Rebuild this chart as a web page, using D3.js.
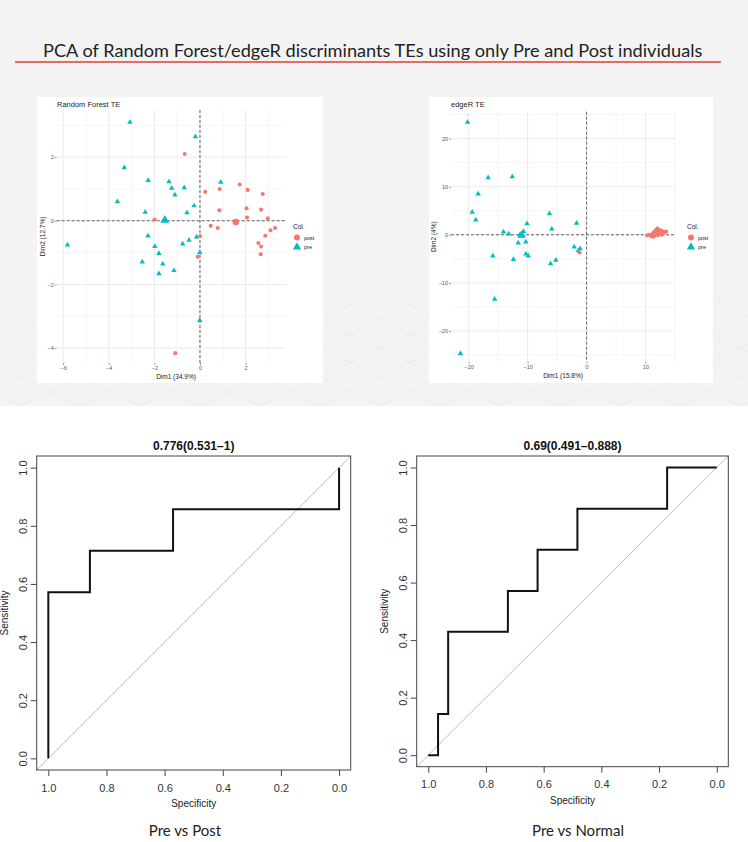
<!DOCTYPE html>
<html><head><meta charset="utf-8">
<script src="https://cdn.jsdelivr.net/npm/d3@7"></script>
<style>body{margin:0;background:#fff}svg{display:block}</style>
</head><body>
<svg id="c" width="748" height="842"></svg>
<script>
// ---------------- DATA ----------------
const mainTitle = "PCA of Random Forest/edgeR discriminants TEs using only Pre and Post individuals";
const groups = ["post", "pre"];
const groupColors = ["#F8766D", "#00BFC4"];

// Random Forest TE PCA (Dim1, Dim2)
const rfPre = [[-3.07,3.10],[-0.20,2.64],[-3.32,1.67],[-2.27,1.27],[-1.36,1.23],[-1.24,1.02],[-0.69,1.04],[-1.10,0.81],[0.91,1.21],[-3.62,0.60],[-2.40,0.27],[-0.26,0.47],[-0.57,0.25],[-5.81,-0.76],[-2.28,-0.48],[-1.98,-0.81],[-1.80,-1.03],[-2.53,-1.29],[-1.63,-1.36],[-1.80,-1.66],[-1.14,-1.56],[-0.76,-0.73],[-0.48,-0.61],[-0.15,-0.51],[-0.01,-1.00],[-0.01,-3.13]];
const rfPost = [[-0.67,2.10],[0.23,0.91],[0.86,1.00],[1.74,1.14],[2.09,0.97],[2.75,0.84],[0.85,0.33],[2.04,0.39],[2.68,0.35],[2.06,0.10],[2.97,0.08],[-1.99,0.04],[0.47,-0.16],[0.78,-0.23],[3.29,-0.23],[3.09,-0.30],[2.86,-0.47],[2.56,-0.70],[2.68,-0.81],[2.66,-1.05],[0.01,-0.48],[-0.10,-1.13],[-1.08,-4.16]];
const rfCentroids = [[1.57,-0.04],[-1.54,0.02]]; // post, pre
const rfXTicks = [-6,-4,-2,0,2];
const rfYTicks = [-4,-2,0,2];

// edgeR TE PCA
const edgePre = [[-20.2,23.4],[-16.7,11.9],[-12.6,12.1],[-18.4,8.5],[-19.4,4.7],[-18.8,3.1],[-14.1,0.6],[-13.2,0.2],[-10.1,2.3],[-10.7,0.7],[-11.3,0.1],[-11.0,-0.2],[-11.6,-1.7],[-10.3,-1.5],[-6.3,4.4],[-5.9,1.2],[-1.7,2.4],[-15.9,-4.4],[-12.4,-5.1],[-10.3,-4.0],[-9.9,-4.4],[-6.1,-6.0],[-5.2,-5.3],[-2.1,-2.5],[-1.4,-3.3],[-1.1,-2.9],[-15.6,-13.4],[-21.4,-24.7]];
const edgePost = [[10.3,-0.1],[10.7,0.0],[11.0,-0.3],[11.2,0.2],[11.4,0.4],[11.6,0.7],[11.8,1.0],[12.0,1.3],[12.2,1.1],[12.3,0.8],[12.5,0.5],[12.6,0.2],[12.8,0.0],[13.0,0.3],[13.2,0.6],[13.5,0.7],[11.5,-0.2],[12.1,-0.1],[12.4,0.1],[11.9,0.3],[12.7,0.9],[11.3,-0.4],[-1.2,-3.7]];
const edgeCentroids = [[11.6,0.3],[-11.0,-0.1]];
const edgeXTicks = [-20,-10,0,10];
const edgeYTicks = [-20,-10,0,10,20];

// ROC curves (specificity, sensitivity)
const roc1Spec = [1, 1, 0.857, 0.857, 0.571, 0.571, 0, 0];
const roc1Sens = [0, 0.571, 0.571, 0.714, 0.714, 0.857, 0.857, 1];
const roc1Title = "0.776(0.531\u20131)";
const roc1Caption = "Pre vs Post";
const roc2Spec = [1, 0.966, 0.966, 0.931, 0.931, 0.724, 0.724, 0.621, 0.621, 0.483, 0.483, 0.172, 0.172, 0];
const roc2Sens = [0, 0, 0.143, 0.143, 0.429, 0.429, 0.571, 0.571, 0.714, 0.714, 0.857, 0.857, 1, 1];
const roc2Title = "0.69(0.491\u20130.888)";
const roc2Caption = "Pre vs Normal";
const rocTicks = [0, 0.2, 0.4, 0.6, 0.8, 1.0];

// ---------------- DRAW ----------------
const svg = d3.select("#c");
svg.append("rect").attr("x",0).attr("y",0).attr("width",748).attr("height",406).attr("fill","#f3f3f3");

// faint decorative floor grid in the grey band
svg.append("clipPath").attr("id","dc").append("rect").attr("x",0).attr("y",300).attr("width",748).attr("height",106);
const deco = svg.append("g").attr("stroke","#eaeaea").attr("stroke-width",0.8).attr("fill","none").attr("clip-path","url(#dc)");
d3.range(-4, 12).forEach(i => {
  deco.append("line").attr("x1", 60*i + 200).attr("y1", 406).attr("x2", 60*i + 420).attr("y2", 300);
  deco.append("line").attr("x1", 60*i + 200).attr("y1", 406).attr("x2", 60*i - 20).attr("y2", 300);
});

// main title
const title = svg.append("text").attr("x",43).attr("y",57)
  .attr("font-family","Lato, 'Open Sans', sans-serif").attr("font-size",19).attr("fill","#222").text(mainTitle);
const tw = title.node().getComputedTextLength();
title.attr("font-size", 19 * 660 / tw);
svg.append("line").attr("x1",15).attr("x2",721).attr("y1",62).attr("y2",62).attr("stroke","#e0402a").attr("stroke-width",1.6);

function pca(o) {
  const g = svg.append("g");
  g.append("rect").attr("x",o.box[0]).attr("y",o.box[1]).attr("width",o.box[2]-o.box[0]).attr("height",o.box[3]-o.box[1]).attr("fill","#fff");
  const x = d3.scaleLinear().domain(o.xd).range([o.pl, o.pr]);
  const y = d3.scaleLinear().domain(o.yd).range([o.pb, o.pt]);
  // minor grid
  g.selectAll(".mx").data(o.xMinor).join("line").attr("x1",d=>x(d)).attr("x2",d=>x(d)).attr("y1",o.pt).attr("y2",o.pb).attr("stroke","#efefef").attr("stroke-width",0.6);
  g.selectAll(".my").data(o.yMinor).join("line").attr("y1",d=>y(d)).attr("y2",d=>y(d)).attr("x1",o.pl).attr("x2",o.pr).attr("stroke","#efefef").attr("stroke-width",0.6);
  g.selectAll(".gx").data(o.xTicks).join("line").attr("x1",d=>x(d)).attr("x2",d=>x(d)).attr("y1",o.pt).attr("y2",o.pb).attr("stroke","#e6e6e6").attr("stroke-width",0.8);
  g.selectAll(".gy").data(o.yTicks).join("line").attr("y1",d=>y(d)).attr("y2",d=>y(d)).attr("x1",o.pl).attr("x2",o.pr).attr("stroke","#e6e6e6").attr("stroke-width",0.8);
  // ticks and labels
  const xa = g.append("g").attr("transform",`translate(0,${o.pb})`).call(d3.axisBottom(x).tickValues(o.xTicks).tickSize(2).tickPadding(1).tickFormat(d3.format("d")));
  const ya = g.append("g").attr("transform",`translate(${o.pl},0)`).call(d3.axisLeft(y).tickValues(o.yTicks).tickSize(2).tickPadding(1).tickFormat(d3.format("d")));
  [xa, ya].forEach(a => {
    a.select(".domain").remove();
    a.selectAll("line").attr("stroke","#555").attr("stroke-width",0.6);
    a.selectAll("text").attr("font-size",5.5).attr("fill","#555").attr("font-family","Liberation Sans, Arial, sans-serif");
  });
  // zero dashed lines
  g.append("line").attr("x1",o.pl).attr("x2",o.pr).attr("y1",y(0)).attr("y2",y(0)).attr("stroke","#555").attr("stroke-width",0.9).attr("stroke-dasharray","3,2");
  g.append("line").attr("y1",o.pt).attr("y2",o.pb).attr("x1",x(0)).attr("x2",x(0)).attr("stroke","#555").attr("stroke-width",0.9).attr("stroke-dasharray","3,2");
  // points
  const circ = d3.symbol().type(d3.symbolCircle).size(13);
  const tri = d3.symbol().type(d3.symbolTriangle).size(13);
  g.selectAll(".pre").data(o.pre).join("path").attr("d",tri).attr("transform",d=>`translate(${x(d[0])},${y(d[1])})`).attr("fill",groupColors[1]);
  g.selectAll(".post").data(o.post).join("path").attr("d",circ).attr("transform",d=>`translate(${x(d[0])},${y(d[1])})`).attr("fill",groupColors[0]);
  g.append("path").attr("d",d3.symbol().type(d3.symbolCircle).size(34)).attr("transform",`translate(${x(o.cent[0][0])},${y(o.cent[0][1])})`).attr("fill",groupColors[0]);
  g.append("path").attr("d",d3.symbol().type(d3.symbolTriangle).size(34)).attr("transform",`translate(${x(o.cent[1][0])},${y(o.cent[1][1])})`).attr("fill",groupColors[1]);
  // texts
  const ff = "Liberation Sans, Arial, sans-serif";
  g.append("text").attr("x",o.titleX).attr("y",o.box[1]+10).attr("font-size",7.5).attr("font-family",ff).attr("fill","#222").text(o.title);
  g.append("text").attr("x",o.xlabX).attr("y",o.pb+16).attr("text-anchor","middle").attr("font-size",6.5).attr("font-family",ff).attr("fill","#222").text(o.xlab);
  g.append("text").attr("transform",`translate(${o.ylabX},${(o.pt+o.pb)/2}) rotate(-90)`).attr("text-anchor","middle").attr("font-size",6.5).attr("font-family",ff).attr("fill","#222").text(o.ylab);
  // legend
  const lg = g.append("g").attr("transform",`translate(${o.legX},${227})`);
  lg.append("text").attr("x",0).attr("y",2).attr("font-size",6.5).attr("font-family",ff).attr("fill","#222").text("Col.");
  lg.append("path").attr("d",d3.symbol().type(d3.symbolCircle).size(28)).attr("transform","translate(4,10.5)").attr("fill",groupColors[0]);
  lg.append("path").attr("d",d3.symbol().type(d3.symbolTriangle).size(30)).attr("transform","translate(4,20)").attr("fill",groupColors[1]);
  lg.append("text").attr("x",11).attr("y",12.5).attr("font-size",5.5).attr("font-family",ff).attr("fill","#222").text(groups[0]);
  lg.append("text").attr("x",11).attr("y",22).attr("font-size",5.5).attr("font-family",ff).attr("fill","#222").text(groups[1]);
}

pca({box:[37,97,323,383], pl:56.7, pr:286, pt:110, pb:363, xd:[-6.28,3.77], yd:[-4.47,3.48],
  xTicks:rfXTicks, yTicks:rfYTicks, xMinor:[-5,-3,-1,1,3], yMinor:[-3,-1,1,3],
  pre:rfPre, post:rfPost, cent:rfCentroids, title:"Random Forest TE", titleX:57,
  xlab:"Dim1 (34.9%)", xlabX:176, ylab:"Dim2 (12.7%)", ylabX:45, legX:293});
pca({box:[429,97,713,383], pl:451, pr:675, pt:111.7, pb:361.7, xd:[-23,15], yd:[-26.4,25.6],
  xTicks:edgeXTicks, yTicks:edgeYTicks, xMinor:[-15,-5,5,15], yMinor:[-25,-15,-5,5,15,25],
  pre:edgePre, post:edgePost, cent:edgeCentroids, title:"edgeR TE", titleX:451,
  xlab:"Dim1 (15.8%)", xlabX:563, ylab:"Dim2 (4%)", ylabX:436, legX:687});

function roc(o) {
  const g = svg.append("g");
  const ff = "Liberation Sans, Arial, sans-serif";
  const x = d3.scaleLinear().domain([1.04,-0.04]).range([o.x0,o.x1]);
  const y = d3.scaleLinear().domain([-0.04,1.04]).range([o.y1,o.y0]);
  // diagonal
  g.append("line").attr("x1",x(1.04)).attr("y1",y(-0.04)).attr("x2",x(-0.04)).attr("y2",y(1.04)).attr("stroke","#bdbdbd").attr("stroke-width",1);
  // curve
  const pts = o.spec.map((s,i)=>[s,o.sens[i]]);
  g.append("path").attr("d",d3.line().x(d=>x(d[0])).y(d=>y(d[1]))(pts)).attr("fill","none").attr("stroke","#111").attr("stroke-width",2);
  // box
  g.append("rect").attr("x",o.x0).attr("y",o.y0).attr("width",o.x1-o.x0).attr("height",o.y1-o.y0).attr("fill","none").attr("stroke","#444").attr("stroke-width",1);
  // axes
  const xa = g.append("g").attr("transform",`translate(0,${o.y1})`).call(d3.axisBottom(x).tickValues(rocTicks).tickSize(6).tickPadding(8).tickFormat(d3.format(".1f")));
  const ya = g.append("g").attr("transform",`translate(${o.x0},0)`).call(d3.axisLeft(y).tickValues(rocTicks).tickSize(6).tickPadding(4).tickFormat(d3.format(".1f")));
  [xa,ya].forEach(a=>{
    a.select(".domain").remove();
    a.selectAll("line").attr("stroke","#444");
    a.selectAll("text").attr("font-size",11).attr("fill","#333").attr("font-family",ff);
  });
  ya.selectAll("text").attr("text-anchor","middle").attr("x",null).attr("dy",null)
    .attr("transform","translate(-14,0) rotate(-90)").attr("y",4);
  g.append("text").attr("x",(o.x0+o.x1)/2).attr("y",o.y0-6).attr("text-anchor","middle").attr("font-size",12).attr("font-weight","bold").attr("font-family",ff).attr("fill","#111").text(o.title);
  g.append("text").attr("x",(o.x0+o.x1)/2).attr("y",o.y1+37).attr("text-anchor","middle").attr("font-size",10).attr("font-family",ff).attr("fill","#222").text("Specificity");
  g.append("text").attr("transform",`translate(${o.x0-29},${(o.y0+o.y1)/2}) rotate(-90)`).attr("text-anchor","middle").attr("font-size",10).attr("font-family",ff).attr("fill","#222").text("Sensitivity");
  g.append("text").attr("x",o.capX).attr("y",836).attr("text-anchor","middle").attr("font-size",15).attr("font-family","Lato, 'Open Sans', sans-serif").attr("fill","#222").text(o.caption);
}
roc({x0:36.7, x1:350.7, y0:456, y1:770, spec:roc1Spec, sens:roc1Sens, title:roc1Title, caption:roc1Caption, capX:185});
roc({x0:416.7, x1:728.3, y0:456, y1:766.7, spec:roc2Spec, sens:roc2Sens, title:roc2Title, caption:roc2Caption, capX:578});
</script>
</body></html>
